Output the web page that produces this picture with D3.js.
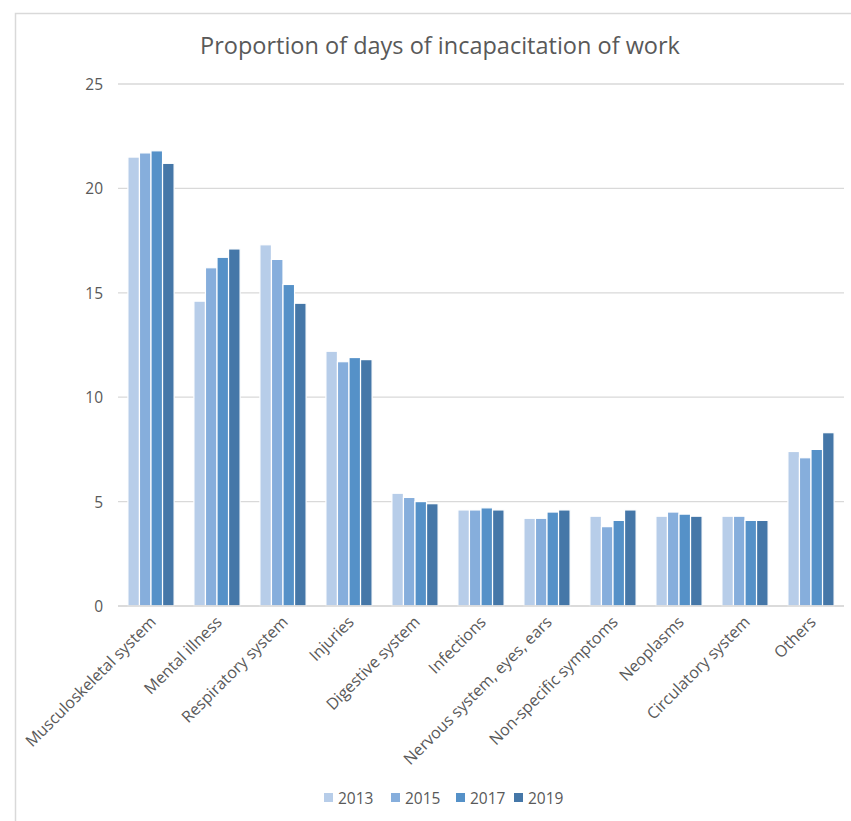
<!DOCTYPE html>
<html>
<head>
<meta charset="utf-8">
<script src="https://cdn.jsdelivr.net/npm/d3@7"></script>
<style>
  body { margin: 0; background: #fff; }
  svg text { font-family: "Open Sans", "Noto Sans", sans-serif; fill: #595959; }
</style>
</head>
<body>
<div id="chart"></div>
<script>
// data
var categories = ["Musculoskeletal system", "Mental illness", "Respiratory system", "Injuries",
    "Digestive system", "Infections", "Nervous system, eyes, ears", "Non-specific symptoms",
    "Neoplasms", "Circulatory system", "Others"];
var years = ["2013", "2015", "2017", "2019"];
var values2013 = [21.5, 14.6, 17.3, 12.2, 5.4, 4.6, 4.2, 4.3, 4.3, 4.3, 7.4];
var values2015 = [21.7, 16.2, 16.6, 11.7, 5.2, 4.6, 4.2, 3.8, 4.5, 4.3, 7.1];
var values2017 = [21.8, 16.7, 15.4, 11.9, 5.0, 4.7, 4.5, 4.1, 4.4, 4.1, 7.5];
var values2019 = [21.2, 17.1, 14.5, 11.8, 4.9, 4.6, 4.6, 4.6, 4.3, 4.1, 8.3];
var yTicks = [0, 5, 10, 15, 20, 25];
var colors = ["#b7cde9", "#86aedc", "#5591c8", "#4577a8"];

var series = [values2013, values2015, values2017, values2019];
var rows = categories.map(function(c, i) {
    return { cat: c, vals: series.map(function(s, j) { return { year: years[j], v: s[i], k: j }; }) };
});

var width = 851, height = 821;
var margin = {top: 84, right: 7, bottom: 215, left: 118};

var svg = d3.select("#chart").append("svg")
    .attr("width", width)
    .attr("height", height);

// frame
svg.append("path")
    .attr("d", "M15.5," + height + "V13.5H" + width)
    .attr("fill", "none")
    .attr("stroke", "#d9d9d9")
    .attr("stroke-width", 1.5);

svg.append("text")
    .attr("x", 440)
    .attr("y", 54)
    .attr("text-anchor", "middle")
    .style("font-size", "23.5px")
    .text("Proportion of days of incapacitation of work");

var x0 = d3.scaleBand()
    .domain(categories)
    .range([margin.left, width - margin.right])
    .paddingInner(0.3)
    .paddingOuter(0.15);

var x1 = d3.scaleBand()
    .domain(years)
    .range([0, x0.bandwidth()]);

var y = d3.scaleLinear()
    .domain([0, 25])
    .range([height - margin.bottom - 0, margin.top]);

// gridlines
svg.append("g")
    .selectAll("line")
    .data(yTicks)
    .enter()
    .append("line")
    .attr("x1", margin.left)
    .attr("x2", width - margin.right)
    .attr("y1", function(d) { return y(d); })
    .attr("y2", function(d) { return y(d); })
    .attr("stroke", "#d9d9d9")
    .attr("stroke-width", 1.3);

var yAxis = svg.append("g")
    .attr("transform", "translate(" + (margin.left - 15) + ",0)")
    .call(d3.axisLeft(y).tickValues(yTicks).tickSize(0).tickPadding(0));
yAxis.select(".domain").remove();
yAxis.selectAll("text")
    .style("font-size", "15.5px")
    .attr("dy", "0.35em");

var group = svg.selectAll(".cat")
    .data(rows)
    .enter()
    .append("g")
    .attr("class", "cat")
    .attr("transform", function(d) { return "translate(" + x0(d.cat) + ",0)"; });

group.selectAll("rect")
    .data(function(d) { return d.vals; })
    .enter()
    .append("rect")
    .attr("x", function(d) { return x1(d.year); })
    .attr("width", x1.bandwidth())
    .attr("y", function(d) { return y(d.v); })
    .attr("height", function(d) { return y(0) - y(d.v); })
    .attr("fill", function(d) { return colors[d.k]; })
    .attr("stroke", "#fff")
    .attr("stroke-width", 1.2);

// axis line on top of bars
svg.append("line")
    .attr("x1", margin.left)
    .attr("x2", width - margin.right)
    .attr("y1", y(0))
    .attr("y2", y(0))
    .attr("stroke", "#d9d9d9")
    .attr("stroke-width", 1.3);

// rotated category labels
svg.append("g")
    .selectAll("text")
    .data(categories)
    .enter()
    .append("text")
    .attr("text-anchor", "end")
    .attr("transform", function(d) {
        var cx = x0(d) + x0.bandwidth() / 2 + 6;
        return "translate(" + cx + "," + (y(0) + 17) + ") rotate(-45)";
    })
    .style("font-size", "16px")
    .text(function(d) { return d; });

// legend
var legendX = [324, 391, 456, 514];
var legend = svg.selectAll(".legend")
    .data(years)
    .enter()
    .append("g")
    .attr("class", "legend")
    .attr("transform", function(d, i) { return "translate(" + legendX[i] + ",798)"; });

legend.append("rect")
    .attr("x", 0)
    .attr("y", -5)
    .attr("width", 9)
    .attr("height", 9)
    .attr("fill", function(d, i) { return colors[i]; });

legend.append("text")
    .attr("x", 14)
    .attr("y", 5.5)
    .style("font-size", "15.5px")
    .text(function(d) { return d; });
</script>
</body>
</html>
